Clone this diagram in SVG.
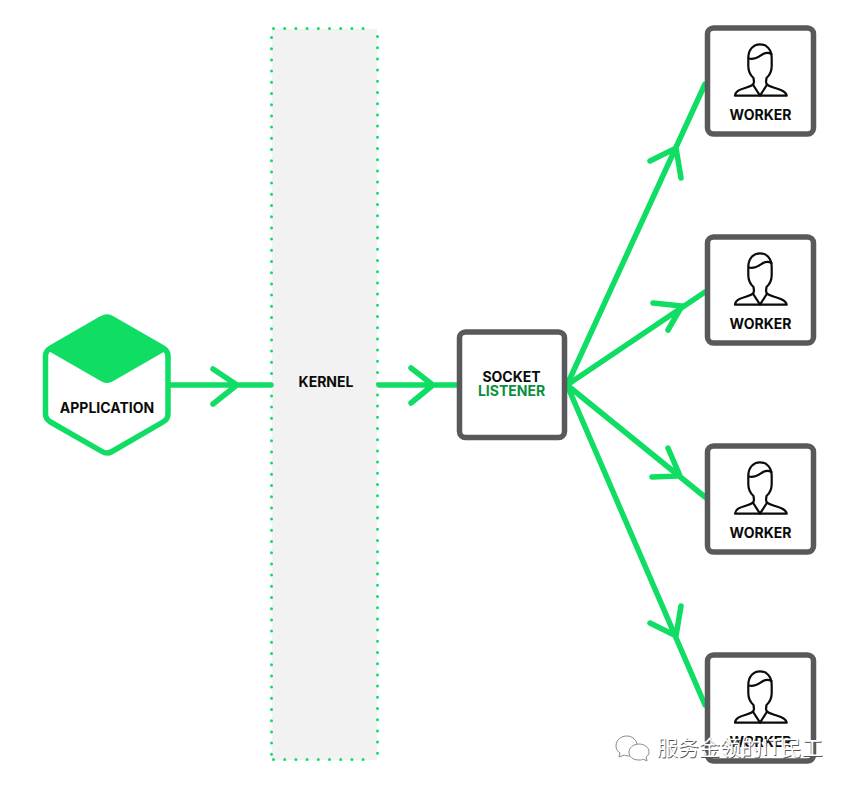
<svg xmlns="http://www.w3.org/2000/svg" width="850" height="785" viewBox="0 0 850 785">
<style>
text{font-family:Inter,"Liberation Sans",Arial,sans-serif;font-weight:700;font-size:14px;text-anchor:middle;fill:#0b0b0b}
.box{fill:#fff;stroke:#58595b;stroke-width:5.500}
.conn{fill:none;stroke:#10de64;stroke-width:5.500;stroke-linecap:round;stroke-linejoin:miter}
.p{fill:none;stroke:#0b0b0b;stroke-width:2.200;stroke-linejoin:round;stroke-linecap:round}
.wm{font-family:"Noto Sans CJK SC",sans-serif;font-weight:400;font-size:21px;text-anchor:start}
</style>
<defs>
<g id="worker">
<rect class="box" x="707.500" y="28" width="106" height="106" rx="6"/>
<path class="p" d="M735,95.700C735.500,91 740,89.500 745,88C750,86.500 754,85.500 754,82L753.500,78C750,75 748.300,71 748.300,66V58C748.300,50 753,44.300 760,44.300C767,44.300 771.700,50 771.700,58V66C771.700,71 770,75 766.500,78L766,82C766,85.500 770,86.500 775,88C780,89.500 786,91 786.700,95.700Z"/>
<path class="p" d="M749,58.500C755,60 759,56.500 763,54C766,52.500 769,52.500 771.500,54M753.500,85.500L760,95.700L766.500,85.500"/>
<text x="760.500" y="120">WORKER</text>
</g>
</defs>
<g id="kernel">
<rect x="272" y="29" width="105" height="731" fill="#f2f2f2"/>
<path d="M273.500,28.500H367" fill="none" stroke="#10de64" stroke-width="3" stroke-linecap="round" stroke-dasharray="0 11.200"/>
<path d="M271.500,37.500V760" fill="none" stroke="#10de64" stroke-width="3" stroke-linecap="round" stroke-dasharray="0 11.200"/>
<path d="M377.500,36.500V760" fill="none" stroke="#10de64" stroke-width="3" stroke-linecap="round" stroke-dasharray="0 11.200"/>
<path d="M273.500,759.500H367" fill="none" stroke="#10de64" stroke-width="3" stroke-linecap="round" stroke-dasharray="0 11.200"/>
<text x="326" y="387">KERNEL</text>
</g>
<g id="connectors" class="conn">
<path d="M170,385H271M213,369L237,385L213,404"/>
<path d="M379,385H457M411,368L433,385L411,403"/>
<path d="M567,385L705,84M650,161L676,148L681,178"/>
<path d="M567,385L705,292M653,303L682,306L668,330"/>
<path d="M567,385L705,497M652,477L680,476L668,448"/>
<path d="M567,385L705,705M650,623L676,636L681,606"/>
</g>
<g id="application">
<path d="M102,318.500Q107,315.500 112,318.500L163,348Q168,351 168,356V414Q168,419 163,422L112,451.500Q107,454.500 102,451.500L50.500,422Q45.500,419 45.500,414V356Q45.500,351 50.500,348Z" fill="#fff" stroke="#10de64" stroke-width="5.500" stroke-linejoin="round"/>
<path d="M102,319L112,319L164,349.500L111,380Q107,382 103,380L50,349.500Z" fill="#10de64" stroke="#10de64" stroke-width="4" stroke-linejoin="round"/>
<text x="107" y="413">APPLICATION</text>
</g>
<g id="socket-listener">
<rect class="box" x="459.500" y="332" width="105" height="105.500" rx="6"/>
<text x="511.500" y="381.500">SOCKET</text>
<text x="511.500" y="395.500" style="fill:#0a8f3c">LISTENER</text>
</g>
<g id="worker-1"><use href="#worker"/></g>
<g id="worker-2"><use href="#worker" y="209"/></g>
<g id="worker-3"><use href="#worker" y="418"/></g>
<g id="worker-4"><use href="#worker" y="627"/></g>
<g id="watermark">
<path d="M637,745C637,741 633,736 627,736C621,736 616,740 616,746C616,749 618,752 620,753L619,757L624,755C626,756 628,756 630,756" fill="#fff" stroke="#8a8a8a" stroke-width="1"/>
<path d="M649,752C649,747 644,744 639,744C633,744 629,748 629,752C629,757 633,760 639,760C641,760 642,760 643,759L647,761L646,757C648,756 649,754 649,752Z" fill="#fff" stroke="#8a8a8a" stroke-width="1"/>
<text class="wm" x="657.800" y="755.800" style="fill:#555">服务金领的IT民工</text>
<text class="wm" x="657" y="755" style="fill:#fff">服务金领的IT民工</text>
</g>
</svg>
